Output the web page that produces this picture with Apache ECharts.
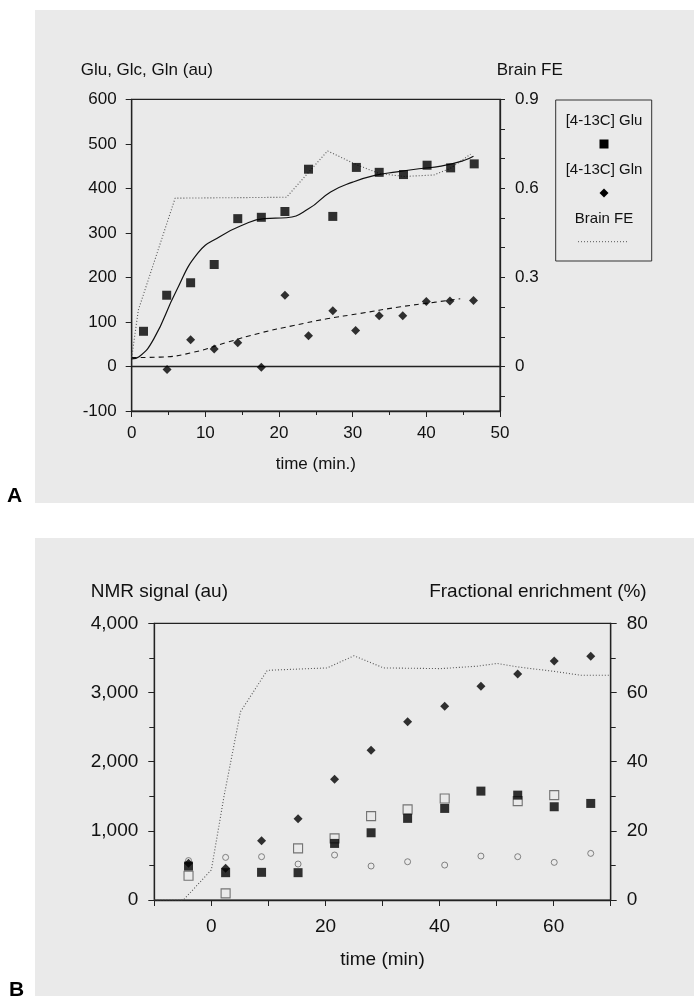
<!DOCTYPE html>
<html><head><meta charset="utf-8">
<script src="https://cdn.jsdelivr.net/npm/echarts@6/dist/echarts.min.js"></script>
<style>html,body{margin:0;padding:0;background:#fff}#c{width:694px;height:996px}</style>
</head><body><div id="c"></div><script>
const FONT = '"Liberation Sans", Arial, Helvetica, sans-serif';

// ---------- Panel A data ----------
const timeGluA = [1.6, 4.75, 8.0, 11.2, 14.4, 17.6, 20.8, 24.0, 27.3, 30.5, 33.6, 36.9, 40.1, 43.3, 46.5];
const gluA     = [79, 160, 188, 229, 332, 335, 348, 443, 337, 447, 436, 431, 452, 446, 455];
const timeGlnA = [4.8, 8.0, 11.2, 14.4, 17.6, 20.8, 24.0, 27.3, 30.4, 33.6, 36.8, 40.0, 43.2, 46.4];
const glnA     = [-7, 60, 39, 53, -1.5, 160, 69, 125, 81, 114, 114, 146, 147, 148];
const timeFeA  = [0, 0.9, 5.9, 21.0, 26.6, 30.5, 33.6, 37.0, 41.0, 43.3, 46.0];
const feA      = [0.03, 0.19, 0.567, 0.57, 0.726, 0.68, 0.65, 0.64, 0.645, 0.668, 0.715];
const timeGluFitA = [0, 1, 3, 6, 9, 12, 15, 18, 21, 24, 27, 30, 33, 36, 39, 42, 45, 46.4];
const gluFitA     = [17, 22, 62, 168, 255, 292, 317, 332, 334, 354, 392, 414, 429, 437, 444, 450, 462, 472];
const timeGlnFitA = [0, 3.9, 8.4, 12.9, 17.4, 22.0, 26.5, 31.0, 36.5, 41.0, 44.6];
const glnFitA     = [20, 21, 32, 54, 75, 92, 107, 119, 134, 144, 152];
const leftTicksA  = [-100, 600, 100];
const rightTickValsA  = [-0.1, 0, 0.1, 0.2, 0.3, 0.4, 0.5, 0.6, 0.7, 0.8, 0.9];
const rightLabelValsA = [0, 0.3, 0.6, 0.9];

// ---------- Panel B data ----------
const timeB     = [-4, 2.5, 8.8, 15.2, 21.6, 28.0, 34.4, 40.9, 47.25, 53.7, 60.1, 66.5];
const filledSqB = [490, 395, 400, 395, 818, 972, 1180, 1324, 1574, 1516, 1348, 1396];
const openSqB   = [350, 96, null, 746, 891, 1213, 1310, 1468, null, 1430, 1516, null];
const circleB   = [570, 616, 626, 520, 650, 491, 553, 505, 635, 626, 544, 674];
const diamondB  = [530, 458, 857, 1174, 1747, 2166, 2575, 2801, 3090, 3268, 3456, 3523];
const timeFeB   = [-10, -4.9, 0, 2.2, 5.1, 9.8, 20.3, 25.0, 30.2, 40.2, 46.6, 50.1, 53.6, 60.1, 64.7, 70];
const feB       = [0, 0, 8.7, 29.8, 54.4, 66.4, 67.1, 70.6, 67.1, 66.9, 67.6, 68.4, 67.4, 66.1, 65.0, 65.0];

const pairs = (xs, ys) => xs.map((x, i) => [x, ys[i]]).filter(p => p[1] !== null);

const AX = '#222';
const axisCommon = (fs, margin) => ({
  axisLine: {show: true, onZero: false, lineStyle: {color: AX, width: 1.3}},
  axisTick: {show: true, inside: false, length: 6, lineStyle: {color: AX, width: 1}},
  splitLine: {show: false},
  axisLabel: {color: '#111', fontSize: fs, fontFamily: FONT, margin: margin}
});

const chart = echarts.init(document.getElementById('c'), null, {renderer: 'canvas'});
chart.setOption({
  animation: false,
  backgroundColor: '#ffffff',
  graphic: [
    {type: 'rect', z: -10, shape: {x: 35, y: 10, width: 659, height: 493}, style: {fill: '#eaeaea'}},
    {type: 'rect', z: -10, shape: {x: 35, y: 538, width: 659, height: 458}, style: {fill: '#eaeaea'}},
    {type: 'text', x: 7, y: 496, style: {text: 'A', font: 'bold 21px ' + FONT, fill: '#000', verticalAlign: 'middle'}},
    {type: 'text', x: 9, y: 990, style: {text: 'B', font: 'bold 21px ' + FONT, fill: '#000', verticalAlign: 'middle'}},
    {type: 'text', x: 80.7, y: 70, style: {text: 'Glu, Glc, Gln (au)', font: '17px ' + FONT, fill: '#111', verticalAlign: 'middle'}},
    {type: 'text', x: 496.7, y: 70, style: {text: 'Brain FE', font: '17px ' + FONT, fill: '#111', verticalAlign: 'middle'}},
    {type: 'text', x: 90.7, y: 592, style: {text: 'NMR signal (au)', font: '19px ' + FONT, fill: '#111', verticalAlign: 'middle'}},
    {type: 'text', x: 646.7, y: 592, style: {text: 'Fractional enrichment (%)', font: '19px ' + FONT, fill: '#111', align: 'right', verticalAlign: 'middle'}},
    // legend of panel A
    {type: 'rect', shape: {x: 555.7, y: 100, width: 96, height: 161}, style: {fill: 'none', stroke: '#333', lineWidth: 1}},
    {type: 'text', x: 604, y: 121, style: {text: '[4-13C] Glu', font: '15px ' + FONT, fill: '#111', align: 'center', verticalAlign: 'middle'}},
    {type: 'rect', shape: {x: 599.5, y: 139.5, width: 9, height: 9}, style: {fill: '#000'}},
    {type: 'text', x: 604, y: 170, style: {text: '[4-13C] Gln', font: '15px ' + FONT, fill: '#111', align: 'center', verticalAlign: 'middle'}},
    {type: 'polygon', shape: {points: [[604, 188.5], [608.5, 193], [604, 197.5], [599.5, 193]]}, style: {fill: '#000'}},
    {type: 'text', x: 604, y: 219, style: {text: 'Brain FE', font: '15px ' + FONT, fill: '#111', align: 'center', verticalAlign: 'middle'}},
    {type: 'line', shape: {x1: 578, y1: 241.7, x2: 627, y2: 241.7}, style: {stroke: '#555', lineWidth: 1, lineDash: [1, 2]}}
  ],
  grid: [
    {left: 131.7, top: 99.3, width: 368.3, height: 311.7, show: true, borderColor: AX, borderWidth: 1.2, backgroundColor: 'transparent'},
    {left: 154.3, top: 623.3, width: 456.4, height: 276.7, show: true, borderColor: AX, borderWidth: 1.2, backgroundColor: 'transparent'}
  ],
  xAxis: [
    Object.assign(axisCommon(17, 14), {
      type: 'value', gridIndex: 0, min: 0, max: 50, interval: 10,
      minorTick: {show: true, splitNumber: 2, length: 4, lineStyle: {color: AX}},
      name: 'time (min.)', nameLocation: 'middle', nameGap: 45,
      nameTextStyle: {color: '#111', fontSize: 17, fontFamily: FONT}
    }),
    Object.assign(axisCommon(19, 17), {
      type: 'value', gridIndex: 1, min: -10, max: 70, interval: 10,
      name: 'time (min)', nameLocation: 'middle', nameGap: 50,
      nameTextStyle: {color: '#111', fontSize: 19, fontFamily: FONT}
    })
  ],
  yAxis: [
    Object.assign(axisCommon(17, 15), {
      type: 'value', gridIndex: 0, min: leftTicksA[0], max: leftTicksA[1], interval: leftTicksA[2]
    }),
    (function () {
      const a = axisCommon(17, 15);
      a.axisTick.customValues = rightTickValsA;
      a.axisTick.length = 5;
      a.axisLabel.customValues = rightLabelValsA;
      a.axisLabel.formatter = v => (v === 0 ? '0' : String(v));
      return Object.assign(a, {type: 'value', gridIndex: 0, position: 'right', min: -0.15, max: 0.9});
    })(),
    Object.assign(axisCommon(19, 16), {
      type: 'value', gridIndex: 1, min: 0, max: 4000, interval: 1000,
      minorTick: {show: true, splitNumber: 2, length: 5, lineStyle: {color: AX}}
    }),
    Object.assign(axisCommon(19, 16), {
      type: 'value', gridIndex: 1, position: 'right', min: 0, max: 80, interval: 20,
      minorTick: {show: true, splitNumber: 2, length: 5, lineStyle: {color: AX}}
    })
  ],
  series: [
    // Panel A
    {type: 'line', xAxisIndex: 0, yAxisIndex: 1, data: pairs(timeFeA, feA), showSymbol: false, symbol: 'none',
     lineStyle: {color: '#555', width: 1.1, type: [1, 2]}, z: 2},
    {type: 'line', xAxisIndex: 0, yAxisIndex: 0, data: pairs(timeGluFitA, gluFitA), showSymbol: false, symbol: 'none',
     smooth: 0.5, lineStyle: {color: '#111', width: 1.2}, z: 3,
     markLine: {silent: true, symbol: 'none', label: {show: false}, lineStyle: {color: AX, type: 'solid', width: 1.3},
       data: [{yAxis: 0}]}},
    {type: 'line', xAxisIndex: 0, yAxisIndex: 0, data: pairs(timeGlnFitA, glnFitA), showSymbol: false, symbol: 'none',
     smooth: 0.5, lineStyle: {color: '#111', width: 1.1, type: [5, 4]}, z: 3},
    {type: 'scatter', xAxisIndex: 0, yAxisIndex: 0, data: pairs(timeGluA, gluA), symbol: 'rect', symbolSize: 9,
     itemStyle: {color: '#000'}, z: 5},
    {type: 'scatter', xAxisIndex: 0, yAxisIndex: 0, data: pairs(timeGlnA, glnA), symbol: 'diamond', symbolSize: [9, 9],
     itemStyle: {color: '#000'}, z: 5},
    // Panel B
    {type: 'line', xAxisIndex: 1, yAxisIndex: 3, data: pairs(timeFeB, feB), showSymbol: false, symbol: 'none',
     lineStyle: {color: '#555', width: 1.1, type: [1, 2]}, z: 2},
    {type: 'scatter', xAxisIndex: 1, yAxisIndex: 2, data: pairs(timeB, openSqB), symbol: 'rect', symbolSize: 9,
     itemStyle: {color: 'transparent', borderColor: '#555', borderWidth: 1.1}, z: 3},
    {type: 'scatter', xAxisIndex: 1, yAxisIndex: 2, data: pairs(timeB, circleB), symbol: 'circle', symbolSize: 6,
     itemStyle: {color: 'transparent', borderColor: '#666', borderWidth: 1}, z: 3},
    {type: 'scatter', xAxisIndex: 1, yAxisIndex: 2, data: pairs(timeB, filledSqB), symbol: 'rect', symbolSize: 9,
     itemStyle: {color: '#000'}, z: 4},
    {type: 'scatter', xAxisIndex: 1, yAxisIndex: 2, data: pairs(timeB, diamondB), symbol: 'diamond', symbolSize: [9, 9],
     itemStyle: {color: '#000'}, z: 5}
  ]
});
// hide odd tick labels on panel B x axis
chart.setOption({xAxis: [{}, {axisLabel: {formatter: v => (v % 20 === 0 ? String(v) : '')}}]});
</script></body></html>
